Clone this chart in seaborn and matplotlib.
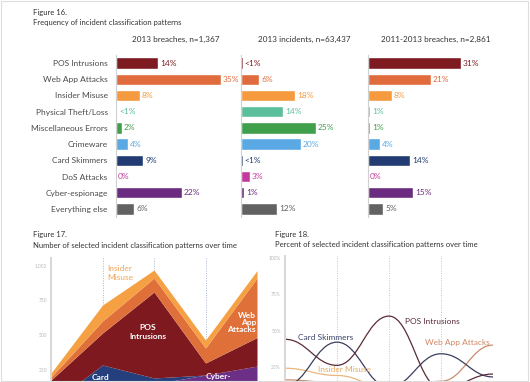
import seaborn as sns
import matplotlib.pyplot as plt
import pandas as pd
from matplotlib.path import Path
from matplotlib.patches import PathPatch, Rectangle

sns.set_style("white")
plt.rcParams['font.family'] = ['Lato', 'DejaVu Sans']

# ---- Figure 16 data ----
patterns = ["POS Intrusions", "Web App Attacks", "Insider Misuse", "Physical Theft/Loss",
            "Miscellaneous Errors", "Crimeware", "Card Skimmers", "DoS Attacks",
            "Cyber-espionage", "Everything else"]
pattern_colors = ["#7d1b20", "#e06b3c", "#f59a3e", "#5bbf9b", "#3f9f4b",
                  "#5aa9e4", "#223b73", "#c43a9c", "#6b2b80", "#626262"]

breaches_2013 = [14, 35, 8, 0.4, 2, 4, 9, 0, 22, 6]
breaches_2013_lbl = ["14%", "35%", "8%", "<1%", "2%", "4%", "9%", "0%", "22%", "6%"]
incidents_2013 = [0.5, 6, 18, 14, 25, 20, 0.5, 3, 1, 12]
incidents_2013_lbl = ["<1%", "6%", "18%", "14%", "25%", "20%", "<1%", "3%", "1%", "12%"]
breaches_1113 = [31, 21, 8, 0.8, 0.8, 4, 14, 0, 15, 5]
breaches_1113_lbl = ["31%", "21%", "8%", "1%", "1%", "4%", "14%", "0%", "15%", "5%"]
panel_titles = ["2013 breaches, n=1,367", "2013 incidents, n=63,437", "2011-2013 breaches, n=2,861"]

# ---- Figure 17 data (counts, stacked bottom to top) ----
years = [0, 1, 2, 3, 4]
cnt_cyber = [10, 60, 150, 214, 278]
cnt_card = [0, 226, 43, 0, 0]
cnt_pos = [168, 228, 614, 86, 204]
cnt_webapp = [22, 86, 100, 107, 425]
cnt_insider = [28, 114, 57, 57, 53]

# ---- Figure 18 data (percent) ----
pct_pos = [44, 26, 60, 10, 20]
pct_card = [12, 42, 11, 34, 18]
pct_insider = [24, 19, 10, 12, 8]
pct_webapp = [16, 14, 8, 15, 40]

W, H = 530, 382
fig = plt.figure(figsize=(W / 100, H / 100), dpi=100)


def box(left, top, width, height):
    return [left / W, 1 - (top + height) / H, width / W, height / H]


def fig_text(x, y, s, **kw):
    fig.text(x / W, 1 - y / H, s, **kw)


fig.patches.append(Rectangle((0.002, 0.003), 0.994, 0.994, transform=fig.transFigure,
                             fill=False, ec="#dddddd", lw=0.8))

# ---- Figure 16 ----
fig_text(33, 12, "Figure 16.", fontsize=5.5, color="#333333", va="center")
fig_text(33, 22, "Frequency of incident classification patterns", fontsize=5.5,
         color="#333333", va="center")

panels = [(116, breaches_2013, breaches_2013_lbl, 176),
          (241, incidents_2013, incidents_2013_lbl, 304),
          (368, breaches_1113, breaches_1113_lbl, 436)]
palette = dict(zip(patterns, pattern_colors))
for k, (left, vals, lbls, tx) in enumerate(panels):
    ax = fig.add_axes(box(left, 55, 126, 162))
    df = pd.DataFrame({"pattern": patterns, "share": vals})
    sns.barplot(data=df, y="pattern", x="share", hue="pattern", palette=palette,
                orient="h", width=0.7, legend=False, saturation=1, ax=ax)
    ax.set_xlim(0, 42)
    ax.set_ylim(9.5, -0.5)
    for i, (v, lb) in enumerate(zip(vals, lbls)):
        ax.text(v + 0.7, i, lb, va="center", ha="left", fontsize=6,
                color=pattern_colors[i])
    for s in ["top", "right", "bottom"]:
        ax.spines[s].set_visible(False)
    ax.spines["left"].set_color("#d0d0d0")
    ax.spines["left"].set_linewidth(0.8)
    ax.set_xticks([])
    ax.set_xlabel("")
    ax.set_ylabel("")
    ax.tick_params(axis="y", length=0, pad=6, labelsize=6, labelcolor="#4a4a4a")
    if k > 0:
        ax.set_yticklabels([])
    ax.patch.set_alpha(0)
    fig_text(tx, 39, panel_titles[k], fontsize=5.9, color="#333333", ha="center", va="center")

# ---- Figure 17 ----
fig_text(33, 235, "Figure 17.", fontsize=5.5, color="#333333", va="center")
fig_text(33, 246, "Number of selected incident classification patterns over time",
         fontsize=5.5, color="#333333", va="center")
ax17 = fig.add_axes(box(51, 258, 206, 147))
for xv in years[1:]:
    ax17.axvline(xv, color="#a8b4cc", lw=0.7, ls=(0, (1, 1.5)), zorder=0)
ax17.stackplot(years, cnt_cyber, cnt_card, cnt_pos, cnt_webapp, cnt_insider,
               colors=["#6c2f86", "#243f7c", "#7e1a1f", "#e0703a", "#f5a043"],
               lw=0, zorder=2)
ax17.set_xlim(0, 4)
ax17.set_ylim(0, 1050)
ax17.set_yticks([250, 500, 750, 1000])
ax17.set_yticklabels(["250", "500", "750", "1,000"])
ax17.set_xticks([])
ax17.tick_params(axis="y", length=0, pad=3, labelsize=3.5, labelcolor="#b8b8b8")
for s in ["top", "right", "bottom"]:
    ax17.spines[s].set_visible(False)
ax17.spines["left"].set_color("#d6d6d6")
ax17.spines["left"].set_linewidth(1.4)
ax17.patch.set_alpha(0)
fig_text(107, 273, "Insider\nMisuse", fontsize=6, color="#f0a55a", ha="left",
         va="center", linespacing=1.2)
fig_text(148, 332, "POS\nIntrusions", fontsize=6, color="white", ha="center",
         va="center", linespacing=1.2, fontweight="bold")
fig_text(256, 322, "Web\nApp\nAttacks", fontsize=6, color="white", ha="right",
         va="center", linespacing=1.0, fontweight="bold")
fig_text(100, 377, "Card", fontsize=6, color="white", ha="center",
         va="center", fontweight="bold")
fig_text(218, 376, "Cyber-", fontsize=6, color="white", ha="center",
         va="center", fontweight="bold")

# ---- Figure 18 ----
fig_text(275, 235, "Figure 18.", fontsize=5.5, color="#333333", va="center")
fig_text(275, 245, "Percent of selected incident classification patterns over time",
         fontsize=5.5, color="#333333", va="center")
ax18 = fig.add_axes(box(285, 256, 208, 147))
for xv in years[1:]:
    ax18.axvline(xv, color="#bcc4d4", lw=0.7, ls=(0, (1, 1.5)), zorder=0)


def smooth_path(xs, ys, k=0.42):
    verts = [(xs[0], ys[0])]
    codes = [Path.MOVETO]
    for i in range(len(xs) - 1):
        dx = xs[i + 1] - xs[i]
        verts += [(xs[i] + k * dx, ys[i]), (xs[i + 1] - k * dx, ys[i + 1]), (xs[i + 1], ys[i + 1])]
        codes += [Path.CURVE4] * 3
    return Path(verts, codes)


for vals, col in [(pct_insider, "#e9b77e"), (pct_webapp, "#c98d6c"),
                  (pct_card, "#3b3f5e"), (pct_pos, "#5a2c38")]:
    ax18.add_patch(PathPatch(smooth_path(years, vals), fill=False, ec=col, lw=0.9, zorder=2))
ax18.set_xlim(0, 4)
ax18.set_ylim(0, 101.5)
ax18.set_yticks([25, 50, 75, 100])
ax18.set_yticklabels(["25%", "50%", "75%", "100%"])
ax18.set_xticks([])
ax18.tick_params(axis="y", length=0, pad=3, labelsize=3.5, labelcolor="#b8b8b8")
for s in ["top", "right", "bottom"]:
    ax18.spines[s].set_visible(False)
ax18.spines["left"].set_color("#d6d6d6")
ax18.spines["left"].set_linewidth(1.4)
ax18.patch.set_alpha(0)
fig_text(298, 338, "Card Skimmers", fontsize=6, color="#3a4468", ha="left", va="center")
fig_text(405, 322, "POS Intrusions", fontsize=6, color="#5a2c38", ha="left", va="center")
fig_text(425, 342, "Web App Attacks", fontsize=6, color="#d08866", ha="left", va="center")
fig_text(318, 370, "Insider Misuse", fontsize=6, color="#e6aa62", ha="left", va="center")

fig.savefig("out.png", dpi=100)
plt.close(fig)
